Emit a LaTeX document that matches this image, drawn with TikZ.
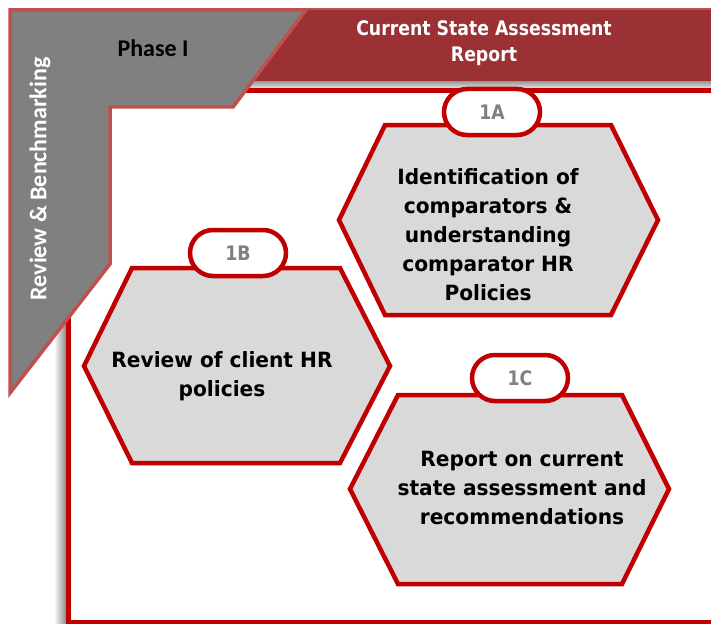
\documentclass[tikz,border=0pt]{standalone}
\usepackage{fontspec}
\setmainfont{DejaVu Sans}
\newfontfamily\hexfont[FakeStretch=0.96]{DejaVu Sans}
\newfontfamily\titlefont[FakeStretch=0.865]{DejaVu Sans}
\newfontfamily\calfont{Carlito}
\usetikzlibrary{shadows}
\definecolor{framered}{RGB}{192,0,0}
\definecolor{bannerred}{RGB}{155,49,53}
\definecolor{lightred}{RGB}{192,80,77}
\definecolor{phasegray}{RGB}{128,128,128}
\definecolor{hexfill}{RGB}{217,217,217}
\definecolor{pilltext}{RGB}{128,128,128}
\tikzset{
  hexshape/.style={draw=framered, line width=4.5pt, fill=hexfill, line join=miter},
  pill/.style={draw=framered, line width=4.5pt, fill=white, rounded corners=23pt,
    minimum width=96pt, minimum height=46pt, inner sep=0pt, text=pilltext,
    font=\titlefont\bfseries\fontsize{20}{24}\selectfont},
  hextext/.style={align=center, inner sep=0pt, text=black,
    font=\hexfont\bfseries\fontsize{21}{29}\selectfont},
  titletext/.style={align=center, inner sep=0pt, text=white,
    font=\titlefont\bfseries\fontsize{20}{25.5}\selectfont},
  phasetext/.style={inner sep=0pt, font=\calfont\bfseries\fontsize{24}{28}\selectfont},
}
\begin{document}
\begin{tikzpicture}[x=1pt,y=-1pt]
\useasboundingbox (0,0) rectangle (711,623);
\begin{scope}
\clip (0,0) rectangle (711,623);
% frame shadow
\shade[left color=white, right color=black!45] (54,93) rectangle (66,623);
% frame
\draw[framered, line width=5pt, fill=white] (68,90.5) rectangle (740,622.5);
% banner shadow band
\shade[top color=black!45, bottom color=black!12] (100,80) rectangle (720,88);
% banner
\fill[bannerred] (100,8) rectangle (720,81);
\draw[lightred, line width=2pt] (100,9) -- (720,9);
% Phase L shape
\draw[lightred, line width=3.5pt, fill=phasegray, line join=miter]
  (10,10) -- (306,10) -- (233,107) -- (110,107) -- (110,264) -- (10,393) -- cycle;
\node[phasetext] (phase) at (153,48) {Phase I};
\node[phasetext, text=white, rotate=90] (review) at (40,179) {Review \& Benchmarking};
\node[titletext] (title) at (484,43) {Current State Assessment\\Report};
% hexagons
\draw[hexshape] (339,220) -- (385,125) -- (611,125) -- (658,220) -- (611,315) -- (385,315) -- cycle;
\draw[hexshape] (84,366) -- (132,268) -- (340,268) -- (390,366) -- (340,463) -- (132,463) -- cycle;
\draw[hexshape] (350,489) -- (398,395) -- (622,395) -- (669,489) -- (622,584) -- (398,584) -- cycle;
\node[hextext] (t1a) at (488,235) {Identification of\\comparators \&\\understanding\\comparator HR\\Policies};
\node[hextext] (t1b) at (222,376) {Review of client HR\\policies};
\node[hextext] (t1c) at (522,488) {Report on current\\state assessment and\\recommendations};
% pills
\node[pill] (p1a) at (492,112) {1A};
\node[pill] (p1b) at (238,253) {1B};
\node[pill] (p1c) at (520,378) {1C};
\end{scope}
\end{tikzpicture}
\end{document}
